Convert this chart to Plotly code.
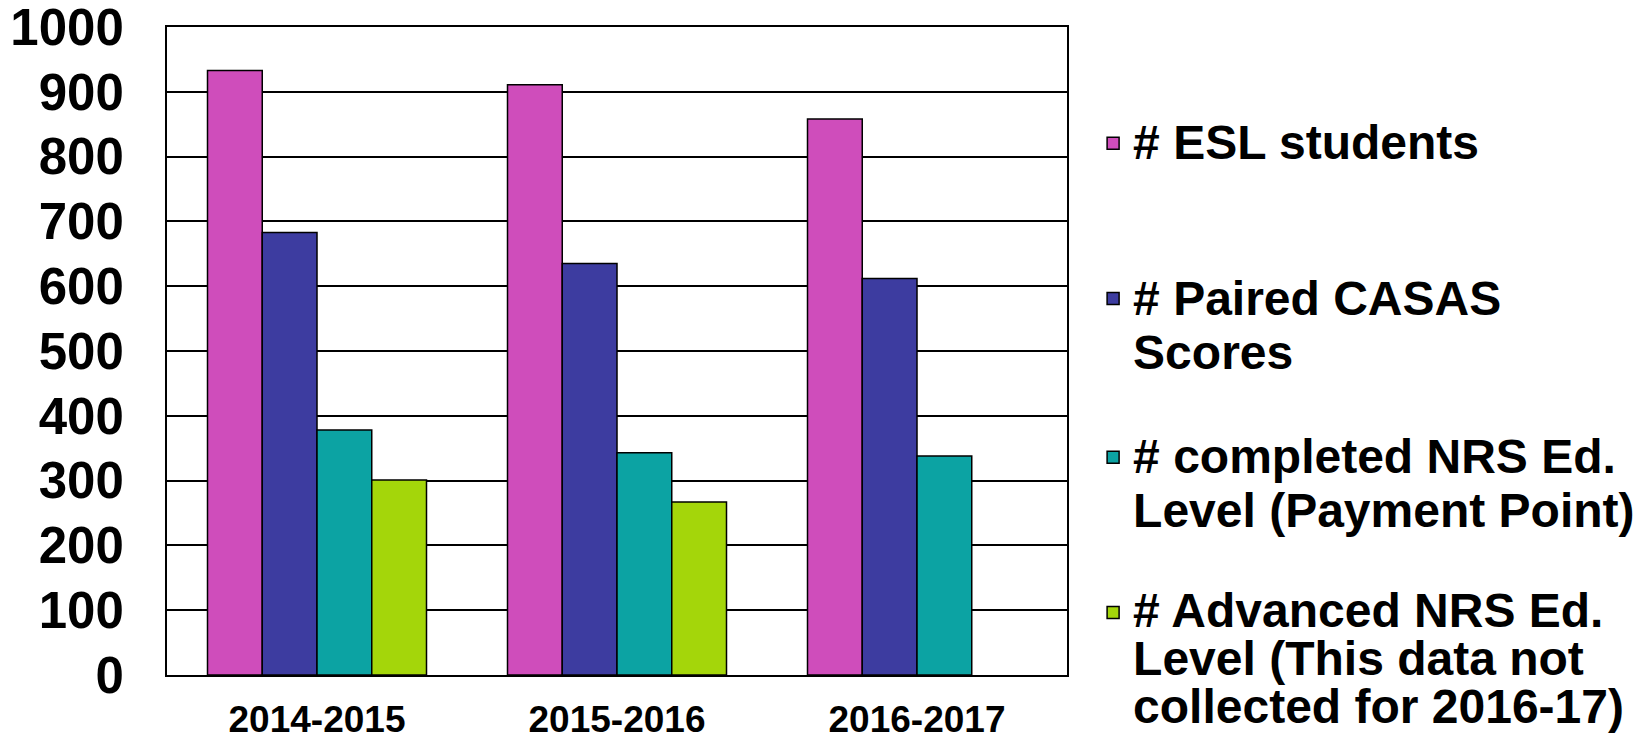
import plotly.graph_objects as go

# ---- data ----
years = ["2014-2015", "2015-2016", "2016-2017"]
esl_students = [933, 911, 858]
paired_casas = [683, 635, 612]
completed_nrs = [378, 343, 338]
advanced_nrs = [301, 267, None]

series_names = [
    ["# ESL students"],
    ["# Paired CASAS", "Scores"],
    ["# completed NRS Ed.", "Level (Payment Point)"],
    ["# Advanced NRS Ed.", "Level (This data not", "collected for 2016-17)"],
]
series_values = [esl_students, paired_casas, completed_nrs, advanced_nrs]
series_colors = ["#CF4DBB", "#3D3CA0", "#0CA3A3", "#A4D60A"]
y_ticks = [0, 100, 200, 300, 400, 500, 600, 700, 800, 900, 1000]

FONT = "Liberation Sans, Arial, Helvetica, sans-serif"
LEG_SPAN = "<span style='font-size:48px'>{}</span>"

fig = go.Figure()
legend_ids = ["legend", "legend2", "legend3", "legend4"]
for names, vals, col, lid in zip(series_names, series_values, series_colors, legend_ids):
    label = "<br>".join(LEG_SPAN.format(n) for n in names)
    fig.add_trace(go.Bar(
        x=years, y=vals, name=label,
        marker=dict(color=col, line=dict(color="black", width=1.5)),
        legend=lid,
    ))


def leg(y, size):
    return dict(
        x=1.029, xanchor="left", y=y, yanchor="top",
        font=dict(family=FONT, size=size, color="black", weight="bold"),
        bgcolor="rgba(0,0,0,0)", borderwidth=0, valign="top",
        itemclick=False, itemdoubleclick=False,
    )


fig.update_layout(
    width=1647, height=744,
    margin=dict(l=167, r=580, t=27, b=69, autoexpand=False),
    paper_bgcolor="white", plot_bgcolor="white",
    barmode="group", bargap=0.27, bargroupgap=0,
    showlegend=True,
    legend=leg(0.8722, 41.5),
    legend2=leg(0.6327, 41.5),
    legend3=leg(0.3877, 41.5),
    legend4=leg(0.1435, 37),
    xaxis=dict(
        showgrid=False, showline=True, linecolor="black", linewidth=2, mirror=True,
        tickfont=dict(family=FONT, size=37, color="black", weight="bold"),
        ticks="", ticklabelstandoff=11, ticklabeloverflow="allow",
    ),
    yaxis=dict(
        range=[0, 1000], tickvals=y_ticks,
        showgrid=True, gridcolor="black", gridwidth=1.5,
        zeroline=False,
        showline=True, linecolor="black", linewidth=2, mirror=True,
        tickfont=dict(family=FONT, size=51, color="black", weight="bold"),
        ticks="", ticklabelstandoff=31, ticklabeloverflow="allow",
    ),
)

fig.write_html(
    "out.html",
    config={"displayModeBar": False},
    post_script="document.body.style.margin='0';",
)
